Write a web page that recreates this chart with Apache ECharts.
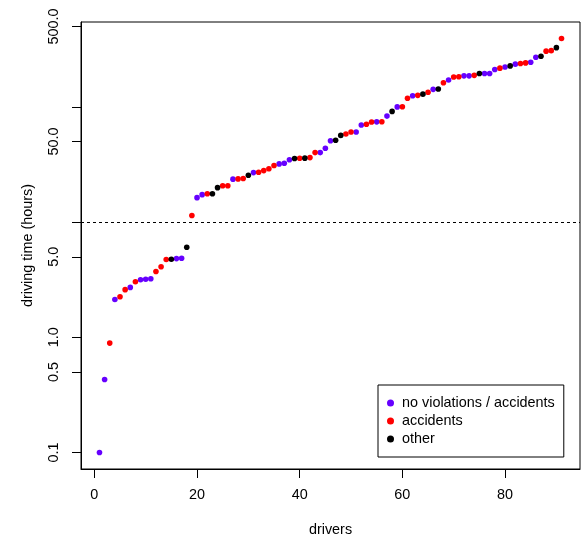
<!DOCTYPE html>
<html><head><meta charset="utf-8">
<script src="https://cdn.jsdelivr.net/npm/echarts@6/dist/echarts.min.js"></script>
<style>html,body{margin:0;padding:0;background:#fff}#c{width:582px;height:536px}</style>
</head><body><div id="c"></div>
<script>
// driving time (hours), drivers sorted by time
const times = [
  0.1, 0.43, 0.89, 2.13, 2.25, 2.59, 2.71, 3.03, 3.16, 3.19,
  3.22, 3.72, 4.09, 4.73, 4.76, 4.82, 4.85, 6.04, 11.4, 16.3,
  17.3, 17.6, 17.6, 19.9, 20.7, 20.7, 23.6, 23.7, 23.9, 25.5,
  26.9, 27.1, 28.0, 29.0, 31.0, 32.0, 32.4, 34.8, 35.7, 35.8,
  35.9, 36.3, 40.1, 40.1, 43.8, 50.9, 51.3, 56.6, 58.2, 60.5,
  60.5, 69.6, 70.6, 74.0, 74.2, 74.3, 83.2, 91.4, 100.0, 100.2,
  119, 125, 126, 129, 134, 142, 143, 162, 171, 182,
  183, 186, 186, 188, 195, 195, 195, 211, 217, 222,
  227, 235, 238, 241, 244, 270, 275, 305, 308, 327,
  392
];
// group of each driver: N = no violations / accidents, A = accidents, O = other
const groups = [
  'N','N','A','N','A','A','N','A','N','N',
  'N','A','A','A','O','N','N','O','A','N',
  'N','A','O','O','A','A','N','A','A','O',
  'N','A','A','A','A','N','N','N','O','A',
  'O','A','A','N','N','N','O','O','A','A',
  'N','N','A','A','N','A','N','O','N','A',
  'A','N','A','O','A','N','O','A','N','A',
  'A','N','N','A','O','N','N','N','A','N',
  'O','N','A','A','N','N','O','A','A','O',
  'A'
];
const groupCodes = ['N', 'A', 'O'];
const groupNames = ['no violations / accidents', 'accidents', 'other'];
const groupColors = ['#6600FF', '#FF0000', '#000000'];
const xTicks = [0, 20, 40, 60, 80];
const yTicks = [0.1, 0.5, 1, 5, 10, 50, 100, 500];
const yTickLabels = [0.1, 0.5, 1, 5, 50, 500];
const cutoff = [10];

const FONT = 'Liberation Sans, Arial, Helvetica, sans-serif';
const FS = 14.4;

const series = groupCodes.map((code, gi) => {
  const data = [];
  times.forEach((t, i) => { if (groups[i] === code) data.push([i + 1, t]); });
  const s = {
    name: groupNames[gi], type: 'scatter', data: data,
    symbol: 'circle', symbolSize: 5.6,
    itemStyle: { color: groupColors[gi], opacity: 1 },
    emphasis: { disabled: true }, z: 3
  };
  if (gi === 0) {
    s.markLine = {
      silent: true, symbol: 'none', animation: false,
      label: { show: false },
      lineStyle: { type: [3, 3], color: '#000', width: 1 },
      emphasis: { disabled: true },
      data: cutoff.map(v => ({ yAxis: v }))
    };
  }
  return s;
});

const chart = echarts.init(document.getElementById('c'), null, { renderer: 'canvas' });
chart.setOption({
  animation: false,
  backgroundColor: '#fff',
  textStyle: { fontFamily: FONT },
  grid: { left: 81, right: 2, top: 22, bottom: 67, show: true, borderColor: '#000', borderWidth: 1,
    backgroundColor: 'transparent', containLabel: false, outerBoundsMode: 'none' },
  xAxis: {
    type: 'value', min: -2.6, max: 94.6,
    name: 'drivers', nameLocation: 'middle', nameGap: 54,
    nameTextStyle: { fontSize: FS, color: '#000', fontFamily: FONT },
    axisLine: { show: true, onZero: false, lineStyle: { color: '#000', width: 1 } },
    axisTick: { show: true, length: 9, customValues: xTicks, lineStyle: { color: '#000' } },
    axisLabel: { customValues: xTicks, margin: 19, fontSize: FS, color: '#000', fontFamily: FONT },
    splitLine: { show: false }
  },
  yAxis: {
    type: 'log', logBase: 10, min: 0.0718, max: 546, position: 'left',
    name: 'driving time (hours)', nameLocation: 'middle', nameGap: 46,
    nameTextStyle: { fontSize: FS, color: '#000', fontFamily: FONT },
    axisLine: { show: true, onZero: false, lineStyle: { color: '#000', width: 1 } },
    axisTick: { show: true, inside: false, length: 9, customValues: yTicks, lineStyle: { color: '#000', width: 1 } },
    axisLabel: { customValues: yTickLabels, rotate: 90, margin: 20, fontSize: FS, color: '#000', fontFamily: FONT,
      formatter: v => Number(v).toFixed(1) },
    splitLine: { show: false },
    minorTick: { show: false }
  },
  legend: {
    orient: 'vertical', left: 378, top: 385,
    padding: [9, 9, 9, 9],
    itemWidth: 7, itemHeight: 7, itemGap: 0,
    icon: 'circle',
    borderColor: '#000', borderWidth: 1, borderRadius: 0,
    selectedMode: false,
    textStyle: { fontSize: FS, lineHeight: 18, color: '#000', fontFamily: FONT, padding: [0, 0, 0, 3] },
    data: groupNames
  },
  series: series
});
</script>
</body></html>
